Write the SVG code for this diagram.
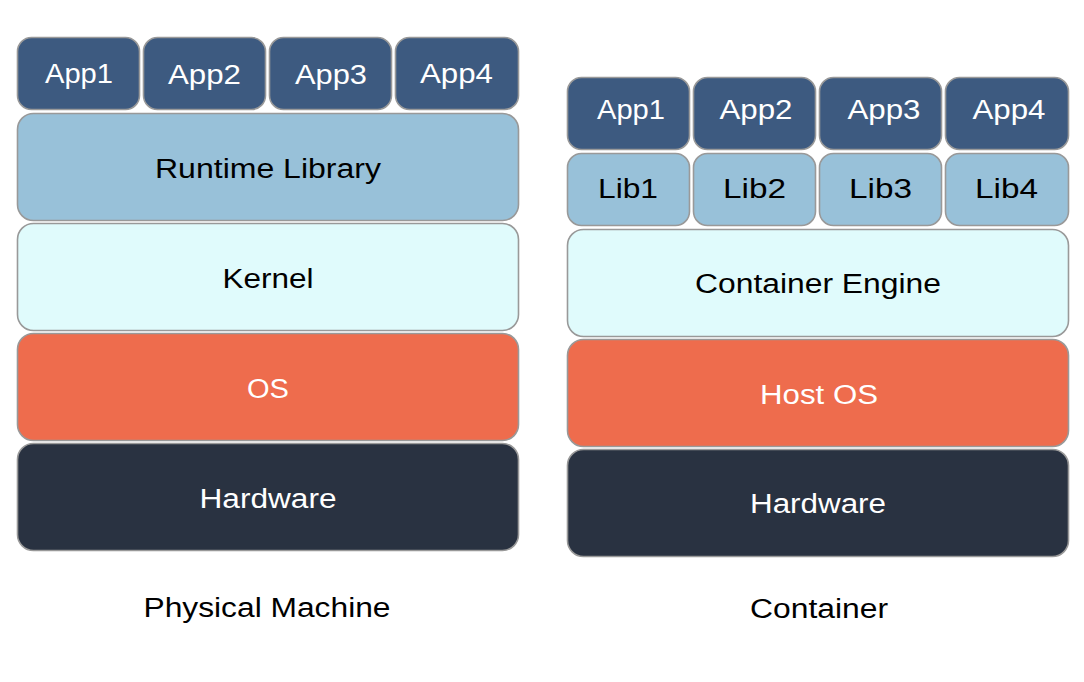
<svg xmlns="http://www.w3.org/2000/svg" width="1084" height="682" viewBox="0 0 1084 682">
<style>
.box{stroke:#999;stroke-width:1.6}
.app{fill:#3D5A80}
.lib{fill:#98C1D9}
.ker{fill:#E0FBFC}
.os{fill:#EE6C4D}
.hw{fill:#293241}
text{font-family:"Liberation Sans",Arial,sans-serif;font-size:27px;text-anchor:middle}
.w{fill:#fff}
.k{fill:#000}
</style>
<rect width="1084" height="682" fill="#fff"/>
<g id="physical">
<g id="p-app1"><rect class="box app" x="17.5" y="37.5" width="122" height="72" rx="14"/><text class="w" x="79" y="83" textLength="68" lengthAdjust="spacingAndGlyphs">App1</text></g>
<g id="p-app2"><rect class="box app" x="143.5" y="37.5" width="122" height="72" rx="14"/><text class="w" x="204.5" y="84" textLength="73" lengthAdjust="spacingAndGlyphs">App2</text></g>
<g id="p-app3"><rect class="box app" x="269.5" y="37.5" width="122" height="72" rx="14"/><text class="w" x="331" y="84" textLength="72" lengthAdjust="spacingAndGlyphs">App3</text></g>
<g id="p-app4"><rect class="box app" x="395.5" y="37.5" width="123" height="72" rx="14"/><text class="w" x="456.5" y="83" textLength="73" lengthAdjust="spacingAndGlyphs">App4</text></g>
<g id="p-runtime"><rect class="box lib" x="17.5" y="113.5" width="501" height="107" rx="16"/><text class="k" x="268" y="178" textLength="226" lengthAdjust="spacingAndGlyphs">Runtime Library</text></g>
<g id="p-kernel"><rect class="box ker" x="17.5" y="223.5" width="501" height="107" rx="16"/><text class="k" x="268" y="288" textLength="91" lengthAdjust="spacingAndGlyphs">Kernel</text></g>
<g id="p-os"><rect class="box os" x="17.5" y="333.5" width="501" height="107" rx="16"/><text class="w" x="268" y="398" textLength="42" lengthAdjust="spacingAndGlyphs">OS</text></g>
<g id="p-hw"><rect class="box hw" x="17.5" y="443.5" width="501" height="107" rx="16"/><text class="w" x="268" y="508" textLength="137" lengthAdjust="spacingAndGlyphs">Hardware</text></g>
<text class="k" x="267" y="617" textLength="247" lengthAdjust="spacingAndGlyphs">Physical Machine</text>
</g>
<g id="container">
<g id="c-app1"><rect class="box app" x="567.5" y="77.5" width="122" height="72" rx="14"/><text class="w" x="631" y="119" textLength="68" lengthAdjust="spacingAndGlyphs">App1</text></g>
<g id="c-app2"><rect class="box app" x="693.5" y="77.5" width="122" height="72" rx="14"/><text class="w" x="756" y="119" textLength="73" lengthAdjust="spacingAndGlyphs">App2</text></g>
<g id="c-app3"><rect class="box app" x="819.5" y="77.5" width="122" height="72" rx="14"/><text class="w" x="884" y="119" textLength="73" lengthAdjust="spacingAndGlyphs">App3</text></g>
<g id="c-app4"><rect class="box app" x="945.5" y="77.5" width="123" height="72" rx="14"/><text class="w" x="1009" y="119" textLength="73" lengthAdjust="spacingAndGlyphs">App4</text></g>
<g id="c-lib1"><rect class="box lib" x="567.5" y="153.5" width="122" height="72" rx="14"/><text class="k" x="628" y="198" textLength="60" lengthAdjust="spacingAndGlyphs">Lib1</text></g>
<g id="c-lib2"><rect class="box lib" x="693.5" y="153.5" width="122" height="72" rx="14"/><text class="k" x="754.5" y="198" textLength="63" lengthAdjust="spacingAndGlyphs">Lib2</text></g>
<g id="c-lib3"><rect class="box lib" x="819.5" y="153.5" width="122" height="72" rx="14"/><text class="k" x="880.5" y="198" textLength="63" lengthAdjust="spacingAndGlyphs">Lib3</text></g>
<g id="c-lib4"><rect class="box lib" x="945.5" y="153.5" width="123" height="72" rx="14"/><text class="k" x="1006.5" y="198" textLength="63" lengthAdjust="spacingAndGlyphs">Lib4</text></g>
<g id="c-engine"><rect class="box ker" x="567.5" y="229.5" width="501" height="107" rx="16"/><text class="k" x="818" y="293" textLength="246" lengthAdjust="spacingAndGlyphs">Container Engine</text></g>
<g id="c-hostos"><rect class="box os" x="567.5" y="339.5" width="501" height="107" rx="16"/><text class="w" x="819" y="404" textLength="118" lengthAdjust="spacingAndGlyphs">Host OS</text></g>
<g id="c-hw"><rect class="box hw" x="567.5" y="449.5" width="501" height="107" rx="16"/><text class="w" x="818" y="513" textLength="136" lengthAdjust="spacingAndGlyphs">Hardware</text></g>
<text class="k" x="819" y="618" textLength="138" lengthAdjust="spacingAndGlyphs">Container</text>
</g>
<g id="connectors"/>
</svg>
